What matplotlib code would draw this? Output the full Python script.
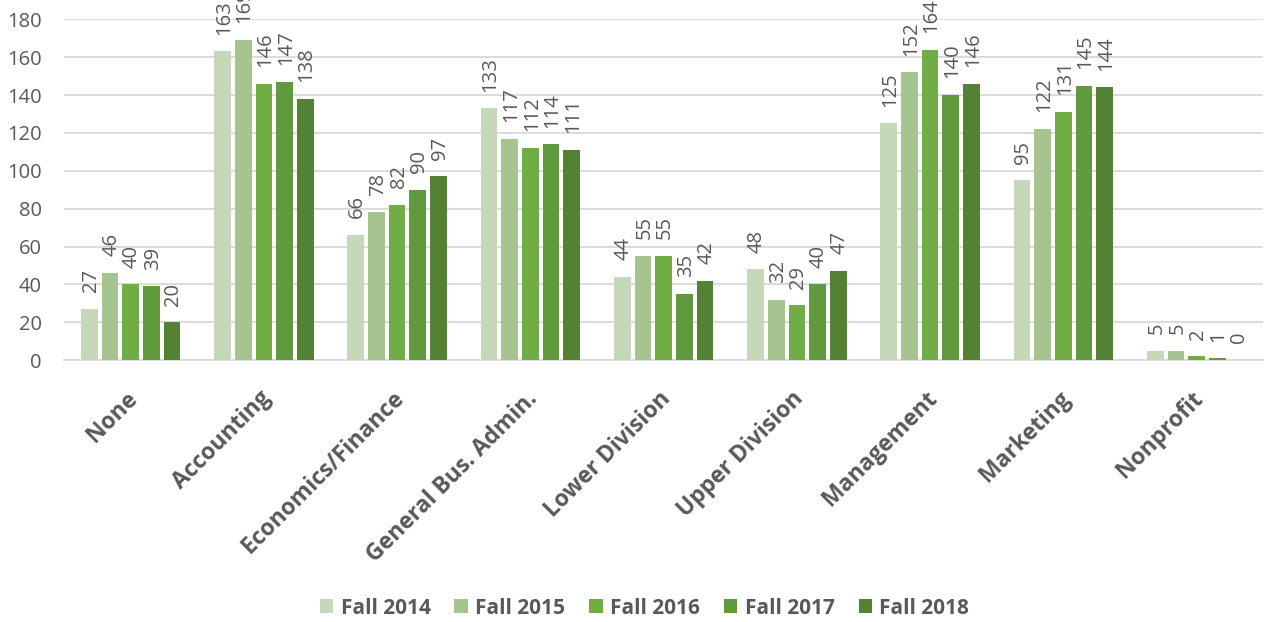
import numpy as np
import matplotlib.pyplot as plt
from matplotlib.transforms import ScaledTranslation

categories = ['None', 'Accounting', 'Economics/Finance', 'General Bus. Admin.',
              'Lower Division', 'Upper Division', 'Management', 'Marketing', 'Nonprofit']
series_names = ['Fall 2014', 'Fall 2015', 'Fall 2016', 'Fall 2017', 'Fall 2018']
fall_2014 = [27, 163, 66, 133, 44, 48, 125, 95, 5]
fall_2015 = [46, 169, 78, 117, 55, 32, 152, 122, 5]
fall_2016 = [40, 146, 82, 112, 55, 29, 164, 131, 2]
fall_2017 = [39, 147, 90, 114, 35, 40, 140, 145, 1]
fall_2018 = [20, 138, 97, 111, 42, 47, 146, 144, 0]
colors = ['#C5D9BA', '#A5C490', '#70AD47', '#619A3E', '#548235']

plt.rcParams['font.family'] = ['Open Sans', 'DejaVu Sans']
text_gray = '#595959'

fig = plt.figure(figsize=(12.65, 6.22), dpi=100)
ax = fig.add_axes([0.0506, 0.421, 0.948, 0.548])

x = np.arange(len(categories))
step = 0.155
bar_w = 0.125
all_series = [fall_2014, fall_2015, fall_2016, fall_2017, fall_2018]
for i, (vals, name, col) in enumerate(zip(all_series, series_names, colors)):
    pos = x + (i - 2) * step
    ax.bar(pos, vals, width=bar_w, color=col, label=name, zorder=3)
    for p, v in zip(pos, vals):
        ax.annotate(str(v), (p, v), xytext=(1, 12), textcoords='offset points',
                    rotation=90, ha='center', va='bottom', fontsize=14.5,
                    color=text_gray, annotation_clip=False)

ax.set_ylim(0, 180)
ax.set_xlim(-0.5, len(categories) - 0.5)
ax.set_yticks(range(0, 181, 20))
ax.yaxis.grid(True, color='#D9D9D9', linewidth=1.3, zorder=0)
for s in ['top', 'right', 'left']:
    ax.spines[s].set_visible(False)
ax.spines['bottom'].set_color('#D9D9D9')
ax.spines['bottom'].set_linewidth(1.3)
ax.tick_params(axis='both', length=0, colors=text_gray, labelsize=14.5)
ax.tick_params(axis='y', pad=16)
ax.set_xticks(x)
ax.set_xticklabels(categories, rotation=45, ha='right', rotation_mode='anchor',
                   fontweight='bold', fontsize=16.5)
ax.tick_params(axis='x', pad=19)
# nudge the slanted category labels a little to the left
shift = ScaledTranslation(-5 / 100, 0, fig.dpi_scale_trans)
for lbl in ax.get_xticklabels():
    lbl.set_transform(lbl.get_transform() + shift)

leg = fig.legend(loc='center', bbox_to_anchor=(0.5095, 1 - 608 / 622), ncol=5, frameon=False,
                 prop={'weight': 'bold', 'size': 15}, handlelength=0.65, handleheight=0.65,
                 handletextpad=0.35, columnspacing=1.15)
for t in leg.get_texts():
    t.set_color(text_gray)

fig.savefig('out.png', dpi=100)
